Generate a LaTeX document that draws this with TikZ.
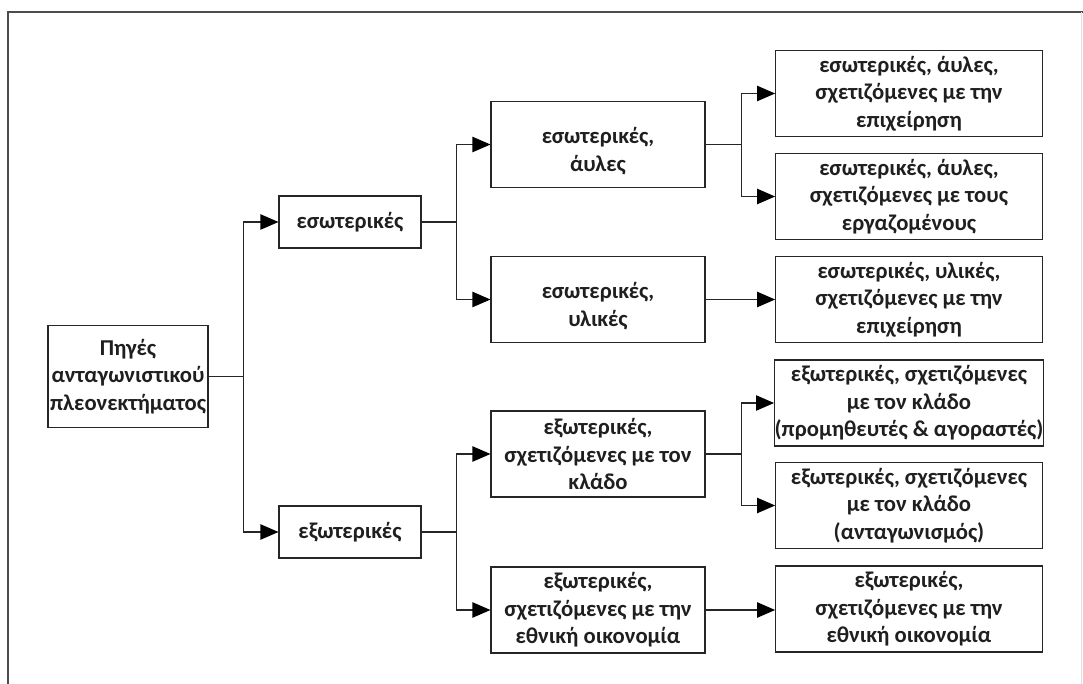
\documentclass[tikz,border=0pt]{standalone}
\usepackage{fontspec}
\setmainfont{Carlito}
\usetikzlibrary{arrows.meta}
\begin{document}
\begin{tikzpicture}[x=0.75pt,y=-0.75pt,
  txt/.style={align=center, inner sep=0pt, font=\fontsize{17}{20.5}\selectfont\bfseries, text=black!88},
  box/.style={txt, draw=black!85, line width=0.8pt, fill=white},
  rootbox/.style={box, minimum width=120pt, minimum height=77pt},
  lvlone/.style={box, minimum width=106.5pt, minimum height=39pt},
  lvltwo/.style={box, minimum width=160.5pt, minimum height=64.5pt},
  lvlthree/.style={box, minimum width=200pt, minimum height=64.5pt},
  link/.style={draw=black!85, line width=0.8pt},
  arr/.style={link, -{Triangle[length=13.5pt,width=11.5pt,color=black]}}
]
\useasboundingbox (0,0) rectangle (1083,684);

% frame
\draw[line width=1pt, black!70] (8,684) -- (8,12) -- (1083,12);
\draw[line width=0.6pt, black!12] (1081,12) -- (1081,684);

% root
\node[rootbox] (root) at (128,376.5) {Πηγές\\ανταγωνιστικού\\πλεονεκτήματος};

% first level
\node[lvlone] (int) at (350,222) {εσωτερικές};
\node[lvlone] (ext) at (350,532) {εξωτερικές};

% second level
\node[lvltwo, label={[txt,yshift=-5pt]center:{εσωτερικές,\\άυλες}}] (intang) at (598,144.5) {};
\node[lvltwo, label={[txt,yshift=-5pt]center:{εσωτερικές,\\υλικές}}] (inmat) at (598,299.5) {};
\node[lvltwo] (exsec) at (598,454) {εξωτερικές,\\σχετιζόμενες με τον\\κλάδο};
\node[lvltwo] (exnat) at (598,610) {εξωτερικές,\\σχετιζόμενες με την\\εθνική οικονομία};

% third level
\node[lvlthree] (intfirm) at (909,93.5) {εσωτερικές, άυλες,\\σχετιζόμενες με την\\επιχείρηση};
\node[lvlthree] (intstaff) at (909,196.5) {εσωτερικές, άυλες,\\σχετιζόμενες με τους\\εργαζομένους};
\node[lvlthree] (matfirm) at (909,299.5) {εσωτερικές, υλικές,\\σχετιζόμενες με την\\επιχείρηση};
\node[lvlthree] (supp) at (909,403) {εξωτερικές, σχετιζόμενες\\με τον κλάδο\\(προμηθευτές \& αγοραστές)};
\node[lvlthree] (comp) at (909,505.5) {εξωτερικές, σχετιζόμενες\\με τον κλάδο\\(ανταγωνισμός)};
\node[lvlthree] (natl) at (909,609) {εξωτερικές,\\σχετιζόμενες με την\\εθνική οικονομία};

% connectors
\draw[arr] (root.east) -- ++(35,0) |- (int.west);
\draw[arr] (root.east) -- ++(35,0) |- (ext.west);

\draw[arr] (int.east) -- ++(35,0) |- (intang.west);
\draw[arr] (int.east) -- ++(35,0) |- (inmat.west);
\draw[arr] (ext.east) -- ++(35,0) |- (exsec.west);
\draw[arr] (ext.east) -- ++(35,0) |- (exnat.west);

\draw[arr] (intang.east) -- ++(36,0) |- (intfirm.west);
\draw[arr] (intang.east) -- ++(36,0) |- (intstaff.west);
\draw[arr] (inmat.east) -- (matfirm.west);
\draw[arr] (exsec.east) -- ++(36,0) |- (supp.west);
\draw[arr] (exsec.east) -- ++(36,0) |- (comp.west);
\draw[arr] (exnat.east) -- (exnat.east -| natl.west);
\end{tikzpicture}
\end{document}
